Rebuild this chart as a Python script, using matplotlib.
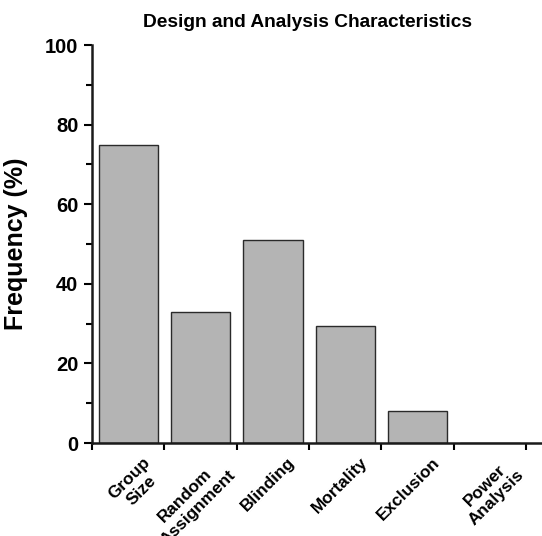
import matplotlib
matplotlib.use("Agg")
import matplotlib.pyplot as plt
from matplotlib.ticker import MultipleLocator, FixedLocator

categories = ["Group\nSize", "Random\nAssignment", "Blinding", "Mortality", "Exclusion", "Power\nAnalysis"]
values = [75, 33, 51, 29.5, 8, 0]

plt.rcParams['font.family'] = ['Liberation Sans', 'DejaVu Sans']
plt.rcParams['font.weight'] = 'bold'

fig = plt.figure(figsize=(5.42, 5.36), dpi=100)
ax = fig.add_axes([0.170, 0.1735, 0.830, 0.7425])

x = list(range(len(categories)))
ax.bar(x, values, width=0.82, color="#b4b4b4", edgecolor="#2a2a2a", linewidth=1.0, zorder=2)

ax.set_xlim(-0.5, 5.72)
ax.set_ylim(0, 100)

for s in ["top", "right"]:
    ax.spines[s].set_visible(False)
for s in ["left", "bottom"]:
    ax.spines[s].set_linewidth(1.8)
    ax.spines[s].set_color("#1a1a1a")

ax.yaxis.set_major_locator(MultipleLocator(20))
ax.yaxis.set_minor_locator(MultipleLocator(10))
ax.tick_params(axis='y', which='major', length=6, width=1.5, labelsize=14.5, pad=4)
ax.tick_params(axis='y', which='minor', length=4, width=1.5)
for lab in ax.get_yticklabels():
    lab.set_fontweight('bold')

ax.xaxis.set_major_locator(FixedLocator([i + 0.5 for i in range(-1, 6)]))
ax.xaxis.set_major_formatter(plt.NullFormatter())
ax.tick_params(axis='x', which='major', length=5, width=1.5)

for i, c in enumerate(categories):
    ax.text(i + 0.2, -3.0, c, rotation=45, ha='right', va='top', rotation_mode='anchor',
            fontsize=12.4, fontweight='bold', multialignment='center',
            transform=ax.transData, clip_on=False)

ax.set_ylabel("Frequency (%)", fontsize=18, fontweight='bold', labelpad=12)
fig.text(0.567, 0.958, "Design and Analysis Characteristics", fontsize=13.8,
         fontweight='bold', ha='center', va='center')

fig.savefig("out.png", dpi=100)
